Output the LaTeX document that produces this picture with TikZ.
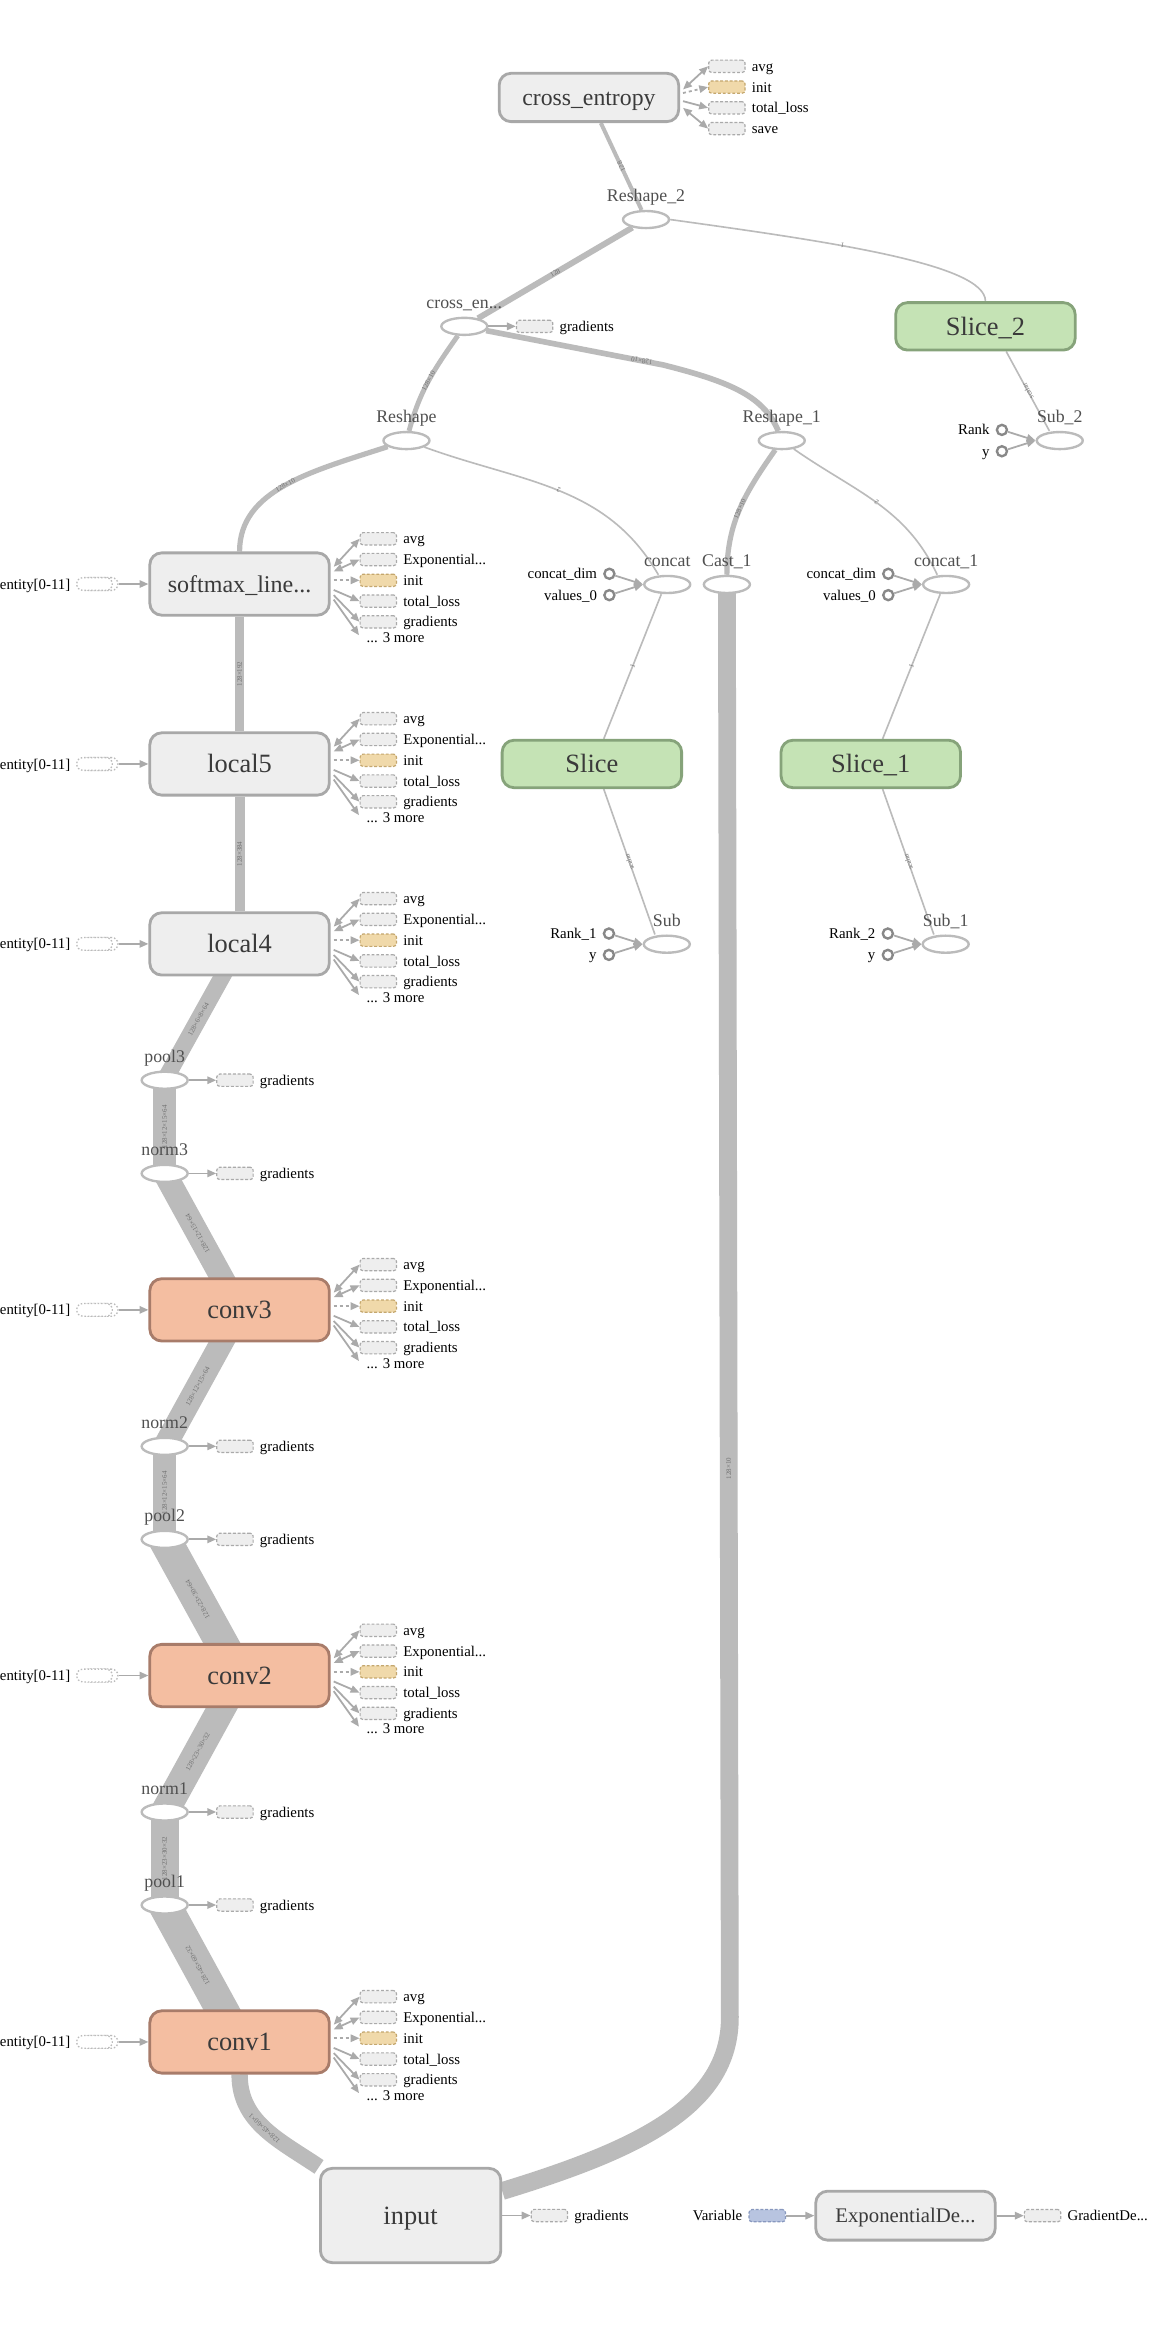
\documentclass[tikz,border=0pt]{standalone}
\usepackage{fontspec}
\setmainfont{Liberation Serif}
\usetikzlibrary{arrows.meta,backgrounds,shapes.geometric}

\definecolor{flowgray}{HTML}{BBBBBB}
\definecolor{auxgray}{HTML}{AAAAAA}
\definecolor{grpfill}{HTML}{EEEEEE}
\definecolor{grpdraw}{HTML}{A8A8A8}
\definecolor{convfill}{HTML}{F4BEA1}
\definecolor{convdraw}{HTML}{A87C6A}
\definecolor{slicefill}{HTML}{C5E3B5}
\definecolor{slicedraw}{HTML}{86A37A}
\definecolor{initfill}{HTML}{F0D9AA}
\definecolor{initdraw}{HTML}{C4A76E}
\definecolor{varfill}{HTML}{B8C4E0}
\definecolor{vardraw}{HTML}{8898BE}
\definecolor{txtdark}{HTML}{3A3A3A}
\definecolor{txtmid}{HTML}{505050}
\definecolor{shapetxt}{HTML}{707070}
\definecolor{circdraw}{HTML}{888888}

\tikzset{
  grp/.style={draw=grpdraw, fill=grpfill, line width=1.9pt, rounded corners=8pt,
    minimum width=121pt, minimum height=42pt, inner sep=0pt, text=txtdark,
    font=\fontsize{17.8}{20}\selectfont, text height=12.1pt, text depth=0pt},
  convgrp/.style={draw=convdraw, fill=convfill},
  slicegrp/.style={draw=slicedraw, fill=slicefill, minimum height=32pt},
  opshape/.style={ellipse, draw=flowgray, fill=white, line width=1.6pt,
    minimum width=31pt, minimum height=11.5pt, inner sep=0pt},
  oplabel/.style={font=\fontsize{12}{13}\selectfont, text=txtmid, inner sep=0pt,
    text height=8.2pt, text depth=0pt},
  auxbox/.style={draw=auxgray, fill=grpfill, line width=0.8pt, rounded corners=2pt,
    dash pattern=on 2pt off 1.2pt, minimum width=24.5pt, minimum height=8.3pt, inner sep=0pt},
  initaux/.style={fill=initfill, draw=initdraw},
  varaux/.style={fill=varfill, draw=vardraw},
  auxtxt/.style={font=\fontsize{10}{11}\selectfont, text=black, inner sep=0pt,
    anchor=west, text height=6.8pt, text depth=0pt},
  auxarr/.style={draw=auxgray, line width=1.2pt, -{Triangle[length=6pt,width=5pt]}},
  biarr/.style={{Triangle[length=6pt,width=5pt]}-{Triangle[length=6pt,width=5pt]}},
  dotarr/.style={dash pattern=on 2pt off 2pt},
  stackpill/.style={draw=flowgray, fill=white, line width=0.9pt, rounded corners=4.2pt,
    dash pattern=on 1pt off 1.3pt, minimum width=24pt, minimum height=8.6pt, inner sep=0pt},
  inpcirc/.style={circle, draw=circdraw, fill=white, line width=1.6pt,
    minimum size=6.8pt, inner sep=0pt},
  dflow/.style={draw=flowgray, line cap=butt},
  thinflow/.style={dflow, line width=1.1pt},
  elabel/.style={font=\fontsize{4.7}{5}\selectfont, text=shapetxt, sloped,
    allow upside down, inner sep=0.3pt},
}

% auxiliary items listed to the right of a group node
\newcommand\grpextras[1]{%
  \node[auxbox] (#1-a1) at ([shift={(93.5,30.5)}]#1.center) {};
  \node[auxbox] (#1-a2) at ([shift={(93.5,16.5)}]#1.center) {};
  \node[auxbox,initaux] (#1-a3) at ([shift={(93.5,2.5)}]#1.center) {};
  \node[auxbox] (#1-a4) at ([shift={(93.5,-11.5)}]#1.center) {};
  \node[auxbox] (#1-a5) at ([shift={(93.5,-25.5)}]#1.center) {};
  \node[auxtxt] (#1-t1) at ([xshift=4pt]#1-a1.east) {avg};
  \node[auxtxt] (#1-t2) at ([xshift=4pt]#1-a2.east) {Exponential...};
  \node[auxtxt] (#1-t3) at ([xshift=4pt]#1-a3.east) {init};
  \node[auxtxt] (#1-t4) at ([xshift=4pt]#1-a4.east) {total\_loss};
  \node[auxtxt] (#1-t5) at ([xshift=4pt]#1-a5.east) {gradients};
  \node[auxtxt] (#1-t6) at ([shift={(85.5,-36)}]#1.center) {... 3 more};
  \coordinate (#1-m) at ([shift={(80.5,-34.5)}]#1.center);
  \draw[auxarr,biarr] ([shift={(2,11.6)}]#1.east) -- (#1-a1.west);
  \draw[auxarr,biarr] ([shift={(2,8.5)}]#1.east) -- (#1-a2.west);
  \draw[auxarr,dotarr] ([shift={(2,2.5)}]#1.east) -- (#1-a3.west);
  \draw[auxarr] ([shift={(2,-4)}]#1.east) -- (#1-a4.west);
  \draw[auxarr] ([shift={(2,-7.5)}]#1.east) -- (#1-a5.west);
  \draw[auxarr] ([shift={(2,-10.5)}]#1.east) -- (#1-m);
}

% stacked series input on the left of a group node
\newcommand\seriesin[1]{%
  \node[stackpill] (#1-s2) at ([xshift=-94pt]#1.center) {};
  \node[stackpill] (#1-s1) at ([xshift=-97.8pt]#1.center) {};
  \node[auxtxt,anchor=east] (#1-e) at ([xshift=-3.7pt]#1-s1.west) {entity[0-11]};
  \draw[auxarr] (#1-s2.east) -- (#1.west);
}

% gradients item next to an op
\newcommand\opgrad[1]{%
  \node[auxbox] (#1-g) at ([xshift=47.4pt]#1.center) {};
  \node[auxtxt] (#1-gt) at ([xshift=4pt]#1-g.east) {gradients};
  \draw[auxarr] (#1.east) -- (#1-g.west);
}

% two constant inputs feeding an op
\newcommand\rankins[3]{%
  \node[inpcirc] (#1-r) at ([shift={(-39,7.2)}]#1.center) {};
  \node[inpcirc] (#1-y) at ([shift={(-39,-7.2)}]#1.center) {};
  \node[auxtxt,anchor=east] (#1-rt) at ([xshift=-4pt]#1-r.west) {#2};
  \node[auxtxt,anchor=east] (#1-yt) at ([xshift=-4pt]#1-y.west) {#3};
  \draw[auxarr] (#1-r) -- (#1.west);
  \draw[auxarr] (#1-y) -- (#1.west);
}

% op ellipse with its name above
\newcommand\opnode[3]{%
  \node[opshape] (#1) at (#2) {};
  \node[oplabel] (#1-l) at ([yshift=16pt]#1.center) {#3};
}

\begin{document}
\begin{tikzpicture}[x=1pt,y=1pt]
\useasboundingbox (0,0) rectangle (779,-1568);

% ---- group nodes ----
\node[grp, minimum height=32.6pt, font=\fontsize{16}{18}\selectfont, text height=10.9pt] (ce) at (397,-65.7) {cross\_entropy};
\node[grp, font=\fontsize{16.2}{18}\selectfont, text height=11pt] (sm) at (161.5,-393.7) {softmax\_line...};
\node[grp] (l5) at (161.5,-515) {local5};
\node[grp] (l4) at (161.5,-636.3) {local4};
\node[grp, convgrp] (c3) at (161.5,-883) {conv3};
\node[grp, convgrp] (c2) at (161.5,-1129.5) {conv2};
\node[grp, convgrp] (c1) at (161.5,-1376.5) {conv1};
\node[grp, minimum width=121.6pt, minimum height=63.6pt] (inp) at (276.8,-1493.5) {input};
\node[grp, minimum height=33pt, font=\fontsize{14}{16}\selectfont, text height=9.5pt] (expd) at (610.4,-1493.6) {ExponentialDe...};
\node[grp, slicegrp] (sl2) at (664.3,-220) {Slice\_2};
\node[grp, slicegrp] (sl) at (399,-515) {Slice};
\node[grp, slicegrp] (sl1) at (587,-515) {Slice\_1};

% ---- op nodes ----
\opnode{R2}{435.5,-148}{Reshape\_2}
\opnode{cen}{313,-220}{cross\_en...}
\opnode{R}{274,-297}{Reshape}
\opnode{R1}{527,-297}{Reshape\_1}
\opnode{sub2}{714.4,-297}{Sub\_2}
\opnode{cc}{449.8,-394}{concat}
\opnode{cast}{490,-394}{Cast\_1}
\opnode{cc1}{637.8,-394}{concat\_1}
\opnode{sub}{449.5,-636.5}{Sub}
\opnode{sub1}{637.5,-636.5}{Sub\_1}
\opnode{p3}{111,-728.2}{pool3}
\opnode{n3}{111,-791}{norm3}
\opnode{n2}{111,-975}{norm2}
\opnode{p2}{111,-1037.7}{pool2}
\opnode{n1}{111,-1221.5}{norm1}
\opnode{p1}{111,-1284.2}{pool1}

% ---- auxiliary items ----
\node[auxbox] (ce-a1) at ([shift={(93,21)}]ce.center) {};
\node[auxbox,initaux] (ce-a2) at ([shift={(93,7)}]ce.center) {};
\node[auxbox] (ce-a3) at ([shift={(93,-7)}]ce.center) {};
\node[auxbox] (ce-a4) at ([shift={(93,-21)}]ce.center) {};
\node[auxtxt] (ce-t1) at ([xshift=4pt]ce-a1.east) {avg};
\node[auxtxt] (ce-t2) at ([xshift=4pt]ce-a2.east) {init};
\node[auxtxt] (ce-t3) at ([xshift=4pt]ce-a3.east) {total\_loss};
\node[auxtxt] (ce-t4) at ([xshift=4pt]ce-a4.east) {save};
\draw[auxarr,biarr] ([shift={(2,5.4)}]ce.east) -- (ce-a1.west);
\draw[auxarr,dotarr] ([shift={(2,3)}]ce.east) -- (ce-a2.west);
\draw[auxarr] ([shift={(2,-2.5)}]ce.east) -- (ce-a3.west);
\draw[auxarr,biarr] ([shift={(2,-7)}]ce.east) -- (ce-a4.west);

\grpextras{sm}\grpextras{l5}\grpextras{l4}
\grpextras{c3}\grpextras{c2}\grpextras{c1}
\seriesin{sm}\seriesin{l5}\seriesin{l4}
\seriesin{c3}\seriesin{c2}\seriesin{c1}

\opgrad{cen}\opgrad{p3}\opgrad{n3}\opgrad{n2}\opgrad{p2}\opgrad{n1}\opgrad{p1}

\rankins{sub2}{Rank}{y}
\rankins{sub}{Rank\_1}{y}
\rankins{sub1}{Rank\_2}{y}
\rankins{cc}{concat\_dim}{values\_0}
\rankins{cc1}{concat\_dim}{values\_0}

\node[auxbox] (inp-g) at ([xshift=31.8pt]inp.east) {};
\node[auxtxt] (inp-gt) at ([xshift=4pt]inp-g.east) {gradients};
\draw[auxarr] (inp.east) -- (inp-g.west);

\node[auxbox,varaux] (var) at (517.2,-1493.6) {};
\node[auxtxt,anchor=east] (var-t) at ([xshift=-4pt]var.west) {Variable};
\draw[auxarr] (var.east) -- (expd.west);
\node[auxbox] (gd) at (702.8,-1493.6) {};
\node[auxtxt] (gd-t) at ([xshift=4pt]gd.east) {GradientDe...};
\draw[auxarr] (expd.east) -- (gd.west);

% ---- data flow ----
\begin{pgfonlayer}{background}
\fill[white] (0,0) rectangle (779,-1568);

% thin shape edges
\draw[thinflow] (sl2.north) .. controls (664.3,-178) and (560,-163) .. (R2.east) node[elabel,pos=0.62]{1};
\draw[thinflow] ([xshift=-7pt]sub2.north) -- node[elabel]{scalar} ([xshift=14pt]sl2.south);
\draw[thinflow] ([xshift=-8pt]sub.north) -- node[elabel]{scalar} ([xshift=8pt]sl.south);
\draw[thinflow] ([xshift=-8pt]sub1.north) -- node[elabel]{scalar} ([xshift=8pt]sl1.south);
\draw[thinflow] ([xshift=8pt]sl.north) -- node[elabel]{1} ([xshift=-4pt]cc.south);
\draw[thinflow] ([xshift=8pt]sl1.north) -- node[elabel]{1} ([xshift=-4pt]cc1.south);
\draw[thinflow] ([xshift=-6pt]cc.north) to[out=120,in=-20] node[elabel]{2} (R);
\draw[thinflow] ([xshift=-6pt]cc1.north) to[out=115,in=-35] node[elabel]{2} (R1);

% tensors around the loss
\draw[dflow, line width=2.7pt] (R2) -- node[elabel]{128} (ce);
\draw[dflow, line width=4pt] (cen) -- node[elabel]{128} (R2);
\draw[dflow, line width=3.3pt] (R) to[out=75,in=235] node[elabel]{128×10} (cen);
\draw[dflow, line width=3.8pt] (R1.110) .. controls (515,-268) and (495,-258) .. (447,-246)
  -- node[elabel,pos=0.12]{128×10} (cen);
\draw[dflow, line width=3.5pt] (sm.north) .. controls (161.5,-330) and (210.3,-317.7) .. (R.198)
  node[elabel,pos=0.5]{128×10};
\draw[dflow, line width=3.5pt] (cast.north) to[out=90,in=235] node[elabel]{128×10} (R1);

% main trunk
\draw[dflow, line width=6pt] (l5) -- node[elabel]{128×192} (sm);
\draw[dflow, line width=6.8pt] (l4) -- node[elabel]{128×384} (l5);
\draw[dflow, line width=11.3pt] (p3.center) -- node[elabel]{128×6×8×64} ([shift={(-5,-10)}]l4.center);
\draw[dflow, line width=15.8pt] (n3.center) -- node[elabel]{128×12×15×64} (p3.center);
\draw[dflow, line width=15.8pt] ([shift={(-6,11)}]c3.center) -- node[elabel]{128×12×15×64} (n3.center);
\draw[dflow, line width=15.8pt] (n2.center) -- node[elabel]{128×12×15×64} ([shift={(-6,-11)}]c3.center);
\draw[dflow, line width=15.8pt] (p2.center) -- node[elabel]{128×12×15×64} (n2.center);
\draw[dflow, line width=22pt] ([shift={(-6,11)}]c2.center) -- node[elabel]{128×23×30×64} (p2.center);
\draw[dflow, line width=19pt] (n1.center) -- node[elabel]{128×23×30×32} ([shift={(-6,-11)}]c2.center);
\draw[dflow, line width=19pt] (p1.center) -- node[elabel]{128×23×30×32} (n1.center);
\draw[dflow, line width=22pt] ([shift={(-6,11)}]c1.center) -- node[elabel]{128×45×60×32} (p1.center);
\draw[dflow, line width=11pt] (inp.north west) to[out=146,in=-90] node[elabel]{128×45×60×1} (c1.south);
\draw[dflow, line width=12pt] ([yshift=16.5pt]inp.east) .. controls (430,-1449) and (492,-1420) .. (492,-1360)
  -- node[elabel,pos=0.383]{128×10} (cast.center);
\end{pgfonlayer}
\end{tikzpicture}
\end{document}
